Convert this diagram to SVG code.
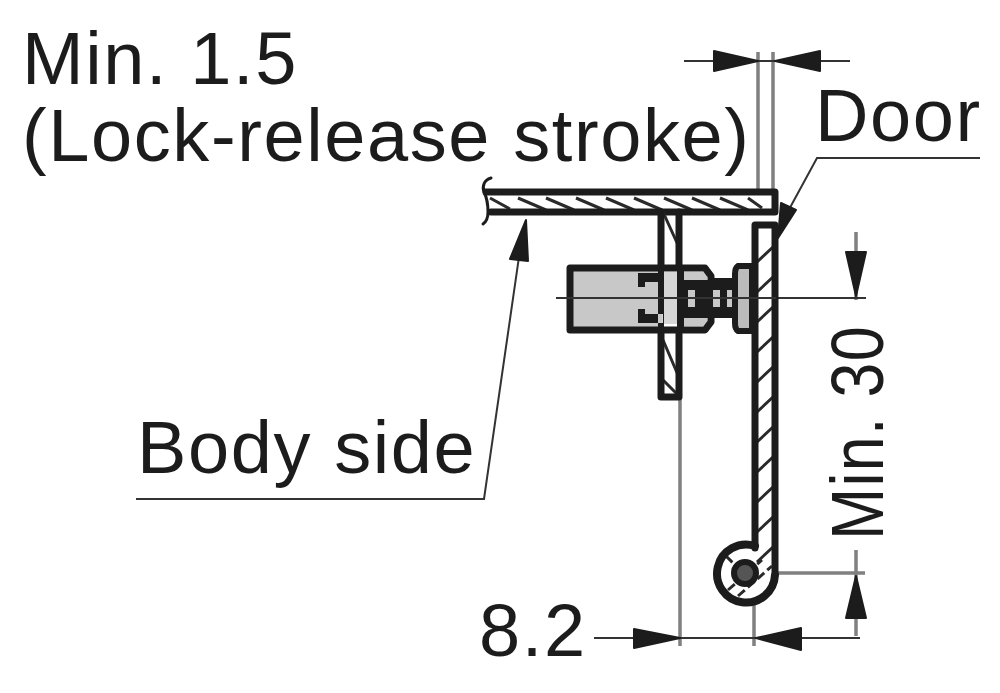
<svg xmlns="http://www.w3.org/2000/svg" width="1000" height="693" viewBox="0 0 1000 693">
<style>
text{font-family:"Liberation Sans",Arial,sans-serif;fill:#1c1c1c;font-size:74px;letter-spacing:1.6px}
.o{fill:none;stroke:#1c1c1c;stroke-width:7;stroke-linejoin:round;stroke-linecap:round}
.h{fill:none;stroke:#2a2a2a;stroke-width:3}
.d{fill:none;stroke:#808080;stroke-width:3.5}
.t{fill:none;stroke:#333;stroke-width:2}
.a{fill:#1c1c1c;stroke:#1c1c1c;stroke-width:2;stroke-linejoin:round}
.k{fill:#1c1c1c}
.g{fill:#c8c8c8}
</style>
<rect width="1000" height="693" fill="#fff"/>
<g id="labels">
<text x="22" y="84">Min. 1.5</text>
<text x="22" y="161">(Lock-release stroke)</text>
<text x="815" y="141">Door</text>
<text x="137" y="473">Body side</text>
<text x="479" y="656">8.2</text>
<text transform="translate(883,540) rotate(-90)" textLength="215" lengthAdjust="spacingAndGlyphs">Min. 30</text>
</g>
<g id="connectors">
<path class="d" d="M758 52V192M773 52V192M680 400V646M754 600V646M776 573H865M856 550V636M856 232V300"/>
<path class="t" d="M684 61H850M556 298H578M775 298H866M594 638H860"/>
<path class="a" d="M714 51L758 61L714 71ZM820 51L775 61L820 71ZM634 629L680 638L634 648ZM801 628L756 638L801 650ZM846 252H866L856 296ZM846 618H866L856 576Z"/>
<path class="t" d="M980 158H817L786 215"/>
<path class="a" d="M796 210L778 238L781 203Z"/>
<path class="t" d="M136 499H484L520 250"/>
<path class="a" d="M510 259L528 261L526 220Z"/>
</g>
<g id="body-side">
<path class="h" d="M490 198L510 209M518 198L546 210M546 198L574 210M576 198L604 210M606 198L634 210M634 198L662 210M664 198L692 210M692 198L720 210M720 198L748 210M748 198L762 208"/>
<path class="o" d="M486 192H775V212H491"/>
<path class="o" d="M491 178C484 180 482 186 484 192C487 198 488 206 488 212C488 218 486 222 483 224" style="stroke-width:3"/>
</g>
<g id="bracket">
<path class="h" d="M663 212L678 245M663 340L678 375M663 380L678 395"/>
<path class="o" d="M661 212V397H679V212"/>
</g>
<g id="door">
<path class="h" d="M757 262L773 247M757 292L773 277M757 322L773 307M757 352L773 337M757 382L773 367M757 412L773 397M757 442L773 427M757 472L773 457M757 502L773 487M757 532L773 517M757 562L773 547"/>
<path class="o" d="M755 548V225H775V572"/>
</g>
<g id="hinge">
<path class="h" d="M728 590L762 560M738 596L772 566M726 556L740 570" stroke-dasharray="9 4"/>
<path class="o" d="M755 546A29 29 0 1 0 775 575" style="stroke-width:8"/>
<circle cx="745" cy="573" r="11" fill="#555" stroke="#1c1c1c" stroke-width="6"/>
</g>
<g id="bolt">
<rect x="570" y="269" width="140" height="60" fill="#fff"/>
<rect class="g" x="570" y="270" width="92" height="58"/>
<rect x="662" y="272" width="16" height="52" fill="#d6d6d6"/>
<rect class="g" x="683" y="272" width="24" height="8"/>
<rect class="g" x="683" y="318" width="24" height="8"/>
<path class="o" d="M570 268H705L711 276V322L705 330H570Z"/>
<path class="k" d="M638 273H663V282H645V287H638ZM638 323H663V314H645V309H638ZM658 266H664V332H658ZM677 266H684V332H677ZM683 280H710V318H683ZM708 278H733V318H708Z"/>
<path class="g" d="M688 290H695V307H688ZM713 290H720V307H713ZM727 290H733V307H727Z"/>
<path d="M738 266H752V331H738Q735 329 735 323V274Q735 268 738 266Z" fill="#bbb" stroke="#1c1c1c" stroke-width="6"/>
<path d="M556 298H776" stroke="#333" stroke-width="2" fill="none"/>
</g>
</svg>
